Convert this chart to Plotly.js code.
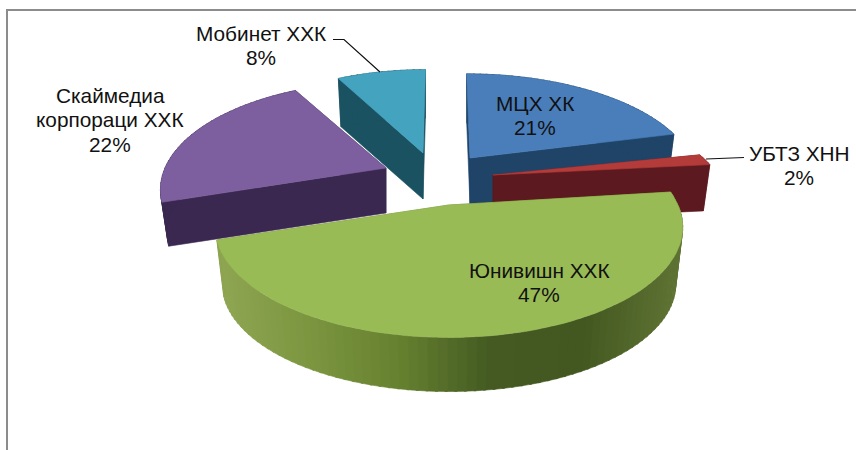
<!DOCTYPE html>
<html><head><meta charset="utf-8">
<script src="https://cdn.plot.ly/plotly-3.0.1.min.js"></script>
<style>html,body{margin:0;padding:0;background:#fff;overflow:hidden}</style>
</head><body><div id="chart" style="width:856px;height:450px"></div>
<script>
// Data
const categories = ["МЦХ ХК", "УБТЗ ХНН", "Юнивишн ХХК", "Скаймедиа корпораци ХХК", "Мобинет ХХК"];
const values = [21, 2, 47, 22, 8];

// Label text lines (category wrapped as in the picture, then the share)
const labelLines = [["МЦХ ХК"], ["УБТЗ ХНН"], ["Юнивишн ХХК"], ["Скаймедиа", "корпораци ХХК"], ["Мобинет ХХК"]];
const labelX = [535, 799, 539, 110, 261];
const labelY = [103, 153, 270, 95, 33];
const lineGap = 24.5;

// Style: top face, side face
const topColor  = ["#4a7ebb", "#b33b39", "#99bb55", "#7d5fa0", "#44a3bf"];
const sideColor = ["#1f4468", "#5c1a20", "#6b8432", "#3a2850", "#1b5261"];
// Shading of the outer wall of a slice, left to right
const wallStops = {2: ["#8fa653", "#7c9640", "#66812f", "#445a22", "#435820", "#5f7334"]};

// Geometry of the exploded perspective view, per slice
const cx = [470, 493, 449, 386, 423];
const cy = [158, 175, 205, 168, 153];
const rx = [222, 224, 229, 221, 212];
const ry = [101, 85, 106, 104, 100];
const depth = [47, 46, 58, 45, 46];
const skew = [0.04, 0, 0, 0, -0.03];
const persp = 0.2, floorScale = 0.97;
const drawOrder = [4, 3, 0, 1, 2];

// Slice angles come from the values
const total = values.reduce((a, b) => a + b, 0);
const startAngle = [];
values.reduce((acc, v, i) => { startAngle[i] = acc / total * 2 * Math.PI; return acc + v; }, 0);
const endAngle = values.map((v, i) => startAngle[i] + v / total * 2 * Math.PI);

function rim(i, t, lower) {
  const w = 1 + persp * Math.cos(t);
  const s = lower ? floorScale : 1;
  const yo = -ry[i] * Math.cos(t) / w;
  return [cx[i] + s * (rx[i] * Math.sin(t) / w + skew[i] * yo), cy[i] + (lower ? depth[i] : 0) + s * yo];
}
function apex(i, lower) { return [cx[i], cy[i] + (lower ? depth[i] : 0)]; }
function poly(pts, color) {
  return {type: "scatter", mode: "lines", x: pts.map(p => p[0]).concat(pts[0][0]), y: pts.map(p => p[1]).concat(pts[0][1]),
    fill: "toself", fillcolor: color, line: {color: color, width: 0.6}, hoverinfo: "skip", showlegend: false};
}
function hex2(c) { return [1, 3, 5].map(k => parseInt(c.substr(k, 2), 16)); }
function shade(stops, f) {
  const p = Math.min(0.9999, Math.max(0, f)) * (stops.length - 1), k = Math.floor(p), u = p - k;
  const a = hex2(stops[k]), b = hex2(stops[k + 1]);
  return "rgb(" + a.map((v, j) => Math.round(v + (b[j] - v) * u)).join(",") + ")";
}

const traces = [];
drawOrder.forEach(i => {
  const a0 = startAngle[i], a1 = endAngle[i];
  // radial faces
  [a0, a1].forEach(a => traces.push(poly([apex(i, false), rim(i, a, false), rim(i, a, true), apex(i, true)], sideColor[i])));
  // outer wall, in narrow strips so it can carry the shading
  const n = Math.max(2, Math.round((a1 - a0) / (2 * Math.PI / 180)));
  for (let k = 0; k < n; k++) {
    const t0 = a0 + (a1 - a0) * k / n, t1 = a0 + (a1 - a0) * (k + 1.25) / n;
    const tEnd = Math.min(t1, a1);
    const pts = [rim(i, t0, false), rim(i, tEnd, false), rim(i, tEnd, true), rim(i, t0, true)];
    const xm = (pts[0][0] + pts[3][0]) / 2;
    const col = wallStops[i] ? shade(wallStops[i], (xm - (cx[i] - rx[i])) / (2 * rx[i])) : sideColor[i];
    traces.push(poly(pts, col));
  }
  // top face
  const top = [apex(i, false)];
  for (let k = 0; k <= n; k++) top.push(rim(i, a0 + (a1 - a0) * k / n, false));
  traces.push(poly(top, topColor[i]));
});

// Text
const annotations = [];
const font = {family: "Liberation Sans, Arial, sans-serif", size: 20.8, color: "#111"};
categories.forEach((c, i) => {
  const lines = labelLines[i].concat([Math.round(values[i] / total * 100) + "%"]);
  lines.forEach((t, k) => annotations.push({text: t, x: labelX[i], y: labelY[i] + k * lineGap, xref: "x", yref: "y",
    xanchor: "center", yanchor: "middle", showarrow: false, font: font}));
});

// Frame and leader lines
const frameColor = "#8c8c8c";
const shapes = [
  {type: "line", xref: "x", yref: "y", x0: 7, x1: 7, y0: 9.5, y1: 450, line: {color: frameColor, width: 2}},
  {type: "line", xref: "x", yref: "y", x0: 6, x1: 856, y0: 10, y1: 10, line: {color: frameColor, width: 2}},
  {type: "path", xref: "x", yref: "y", path: "M333,39.5 L344,39.5 L380,72", line: {color: "#111", width: 1.2}},
  {type: "line", xref: "x", yref: "y", x0: 706, y0: 159, x1: 744, y1: 157.5, line: {color: "#111", width: 1.2}}
];

Plotly.newPlot("chart", traces, {
  width: 856, height: 450, margin: {l: 0, r: 0, t: 0, b: 0},
  paper_bgcolor: "#fff", plot_bgcolor: "#fff", showlegend: false,
  xaxis: {range: [0, 856], visible: false, fixedrange: true},
  yaxis: {range: [450, 0], visible: false, fixedrange: true},
  annotations: annotations, shapes: shapes, hovermode: false
}, {displayModeBar: false, staticPlot: true});
</script></body></html>
